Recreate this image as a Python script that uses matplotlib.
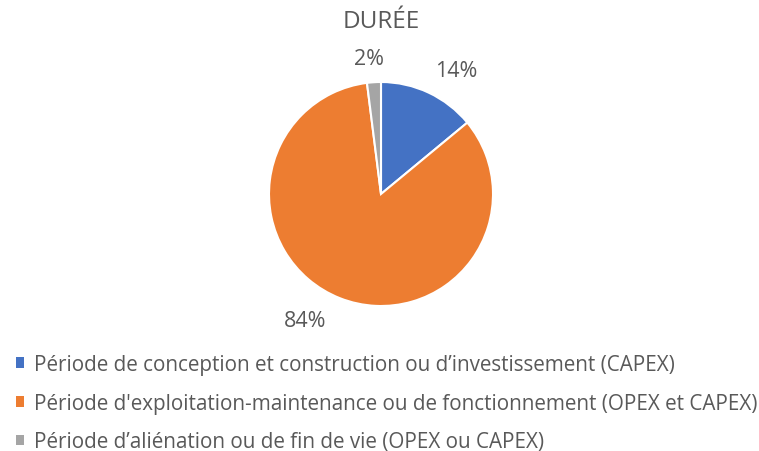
import numpy as np
import matplotlib
matplotlib.use("Agg")
import matplotlib.pyplot as plt
from matplotlib.patches import Patch

plt.rcParams['font.family'] = ['Open Sans', 'DejaVu Sans']

# ----- DATA -----
title = "DURÉE"
periods = [
    "Période de conception et construction ou d’investissement (CAPEX)",
    "Période d'exploitation-maintenance ou de fonctionnement (OPEX et CAPEX)",
    "Période d’aliénation ou de fin de vie (OPEX ou CAPEX)",
]
shares = [14, 84, 2]
colors = ["#4472C4", "#ED7D31", "#A5A5A5"]

# where each percentage label sits (angle in degrees, distance in radii)
label_pos = [(58.6, 1.29), (239.0, 1.32), (95.0, 1.21)]

TXT = "#595959"

# ----- FIGURE SETUP -----
W, H = 759, 452
fig = plt.figure(figsize=(W / 100, H / 100), dpi=100)
cx, cy, r = 381, 195, 112
ax = fig.add_axes([(cx - r) / W, 1 - (cy + r) / H, 2 * r / W, 2 * r / H])

wedges, texts, autotexts = ax.pie(
    shares, colors=colors, startangle=90, counterclock=False,
    autopct="%1.0f%%", radius=1,
    wedgeprops=dict(edgecolor="white", linewidth=1.5),
    textprops=dict(color=TXT, fontsize=15.5),
)
ax.set_xlim(-1, 1)
ax.set_ylim(-1, 1)

for t, (ang, dist) in zip(autotexts, label_pos):
    a = np.radians(ang)
    t.set_position((dist * np.cos(a), dist * np.sin(a)))
    t.set_clip_on(False)

fig.text(cx / W, 1 - 22 / H, title, ha="center", va="center",
         fontsize=17.5, color=TXT)

# ----- LEGEND -----
handles = [Patch(facecolor=c, edgecolor="none") for c in colors]
fig.legend(handles, periods, loc="upper left", bbox_to_anchor=(16 / W, 1 - 355 / H),
           frameon=False, fontsize=14.85, labelcolor=TXT,
           handlelength=0.4, handleheight=0.4, handletextpad=0.45,
           labelspacing=0.86, borderaxespad=0, borderpad=0)

fig.savefig("out.png", dpi=100)
